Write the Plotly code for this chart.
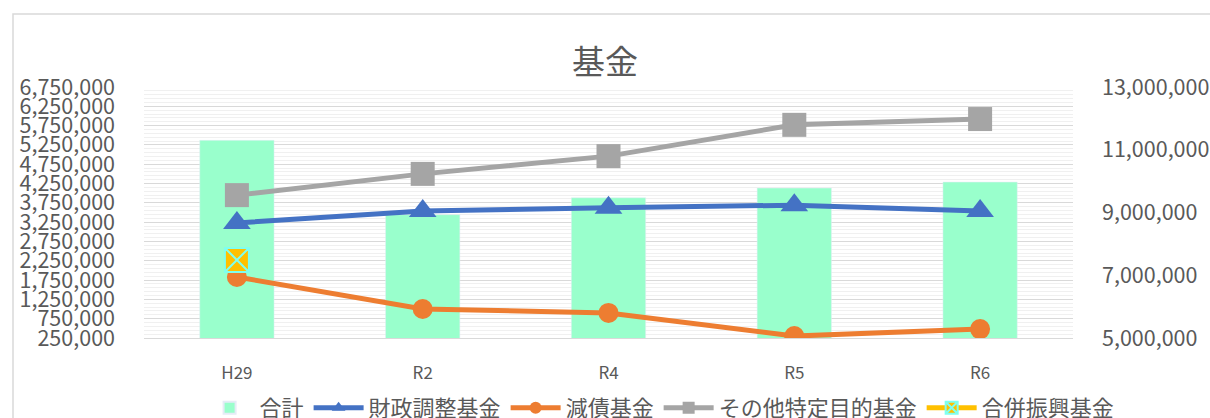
import plotly.graph_objects as go

categories = ["H29", "R2", "R4", "R5", "R6"]
total = [11300000, 8930000, 9470000, 9780000, 9970000]
zaisei = [3230000, 3540000, 3620000, 3690000, 3540000]
gensai = [1830000, 1000000, 900000, 300000, 480000]
sonota = [3950000, 4500000, 4960000, 5770000, 5920000]
gappei = [2270000, None, None, None, None]

left_ticks = list(range(250000, 6750001, 500000))
right_ticks = list(range(5000000, 13000001, 2000000))

W, H = 1210, 418
PL, PR, PT, PB = 144, 1073, 87, 338
font_jp = "Noto Sans CJK JP"
txt = "#595959"

fig = go.Figure()
fig.add_trace(go.Bar(x=categories, y=total, name="合計", marker_color="#99FFCC",
                     yaxis="y", width=0.4))
fig.add_trace(go.Scatter(x=categories, y=zaisei, name="財政調整基金", yaxis="y2",
                         mode="lines+markers", line=dict(color="#4472C4", width=5),
                         marker=dict(symbol="triangle-up", size=24, color="#4472C4")))
fig.add_trace(go.Scatter(x=categories, y=gensai, name="減債基金", yaxis="y2",
                         mode="lines+markers", line=dict(color="#ED7D31", width=5),
                         marker=dict(symbol="circle", size=20, color="#ED7D31")))
fig.add_trace(go.Scatter(x=categories, y=sonota, name="その他特定目的基金", yaxis="y2",
                         mode="lines+markers", line=dict(color="#A5A5A5", width=5),
                         marker=dict(symbol="square", size=24, color="#A5A5A5")))
fig.add_trace(go.Scatter(x=categories, y=gappei, name="合併振興基金", yaxis="y2",
                         mode="lines+markers", line=dict(color="#FFC000", width=5),
                         marker=dict(symbol="square-x", size=24, color="#FFC000",
                                     line=dict(color="#7FFFEF", width=2))))

fig.update_layout(
    width=W, height=H,
    margin=dict(l=PL, r=W - PR, t=PT, b=H - PB, autoexpand=False),
    paper_bgcolor="white", plot_bgcolor="white",
    font=dict(family=font_jp, color=txt),
    title=dict(text="基金", x=0.5, xanchor="center", y=1 - 62 / H, yanchor="middle",
               font=dict(size=33, color=txt, family=font_jp)),
    xaxis=dict(type="category", showline=True, linecolor="#d9d9d9", linewidth=1,
               showgrid=False, ticks="", tickfont=dict(size=17, color=txt),
               ticklabelstandoff=20),
    yaxis=dict(side="right", range=[5000000, 13000000], tickvals=right_ticks,
               tickformat=",", showgrid=False, zeroline=False, showline=False,
               tickfont=dict(size=21.5, color=txt), ticklabelstandoff=28),
    yaxis2=dict(overlaying="y", side="left", range=[250000, 6750000],
                tickvals=left_ticks, tickformat=",", showgrid=True,
                gridcolor="#d9d9d9", gridwidth=1, zeroline=False, showline=False,
                minor=dict(dtick=100000, tick0=250000, showgrid=True,
                           gridcolor="#f0f0f0", gridwidth=1),
                tickfont=dict(size=21.5, color=txt), ticklabelstandoff=28),
    legend=dict(orientation="h", x=0.555, xanchor="center", y=(PB - 408) / (PB - PT),
                yanchor="middle", font=dict(size=22, color=txt, family=font_jp),
                bgcolor="rgba(0,0,0,0)", itemsizing="constant", itemwidth=50),
    showlegend=True,
)

pw, ph = PR - PL, PB - PT
fig.add_shape(type="rect", xref="paper", yref="paper",
              x0=(13 - PL) / pw, x1=(1300 - PL) / pw,
              y0=(PB - 500) / ph, y1=(PB - 14) / ph,
              line=dict(color="#d9d9d9", width=1.5), fillcolor="rgba(0,0,0,0)", layer="below")

fig.write_html("out.html")
